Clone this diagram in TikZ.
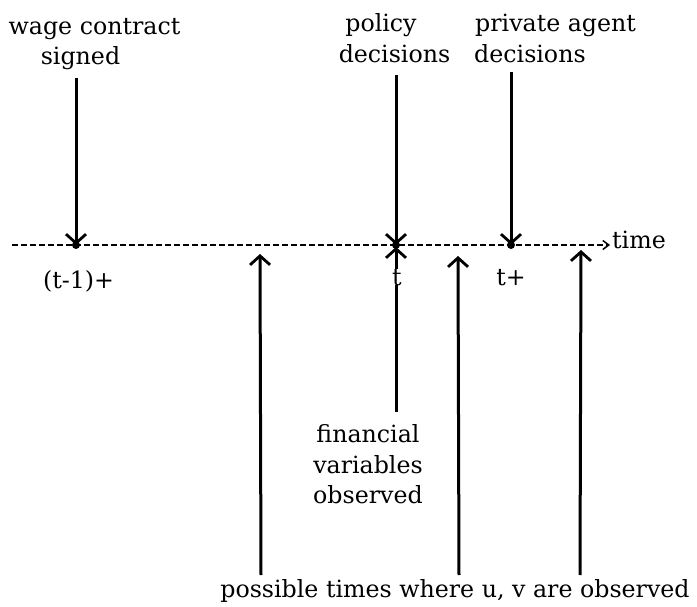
\documentclass[tikz,border=0pt]{standalone}
\usepackage{fontspec}
\setmainfont{DejaVu Serif}
\usetikzlibrary{arrows.meta}
\begin{document}
\begin{tikzpicture}[x=1pt,y=-1pt,
  lbl/.style={inner sep=0pt,font=\fontsize{23.7}{31}\selectfont},
  evarrow/.style={line width=3pt,-{Straight Barb[length=9pt,width=20pt,line width=2.8pt]}},
  axis/.style={line width=2pt,dash pattern=on 6pt off 3pt,-{Straight Barb[length=6pt,width=9pt,line width=1.5pt]}},
  evdot/.style={circle,fill=black,inner sep=0pt,minimum size=8pt}]
\useasboundingbox (0,0) rectangle (697,607);
% axis
\coordinate (axs) at (12,245);
\coordinate (axe) at (610,245);
\draw[axis] (axs) -- (axe);
\node[lbl,anchor=base west] (time) at (612,248) {time};
% event dots
\node[evdot] (pw) at (76,245) {};
\node[evdot] (pt) at (396,245) {};
\node[evdot] (pp) at (511,245) {};
% arrow ends
\coordinate (sw) at (76,78);
\coordinate (sp) at (396,75);
\coordinate (sa) at (511,72);
\coordinate (sf) at (396,412);
\coordinate (u1) at (261,575);
\coordinate (u2) at (459,575);
\coordinate (u3) at (580,575);
\coordinate (e1) at (260,254);
\coordinate (e2) at (458,256);
\coordinate (e3) at (581,250);
\coordinate (ef) at (396,247);
% arrows
\draw[evarrow] (sw) -- (pw.center);
\draw[evarrow] (sp) -- (pt.center);
\draw[evarrow] (sa) -- (pp.center);
\draw[evarrow] (sf) -- (ef);
\draw[evarrow] (u1) -- (e1);
\draw[evarrow] (u2) -- (e2);
\draw[evarrow] (u3) -- (e3);
% top labels
\node[lbl,anchor=base] (wc1) at (94.5,35) {wage contract};
\node[lbl,anchor=base] (wc2) at (80.5,65) {signed};
\node[lbl,anchor=base] (pd1) at (381,32) {policy};
\node[lbl,anchor=base] (pd2) at (394.5,63) {decisions};
\node[lbl,anchor=base west] (pa1) at (475,32) {private agent};
\node[lbl,anchor=base west] (pa2) at (474,63) {decisions};
% time labels
\node[lbl,anchor=base] (lt1) at (78.5,288) {(t-1)+};
\node[lbl,anchor=base,fill=white,inner xsep=1pt] (lt) at (397,285) {t};
\node[lbl,anchor=base] (ltp) at (511,285) {t+};
% bottom labels
\node[lbl,anchor=base] (fin1) at (368,442) {financial};
\node[lbl,anchor=base] (fin2) at (368,473) {variables};
\node[lbl,anchor=base] (fin3) at (368,503) {observed};
\node[lbl,anchor=base] (poss) at (455,597) {possible times where u, v are observed};
\end{tikzpicture}
\end{document}
